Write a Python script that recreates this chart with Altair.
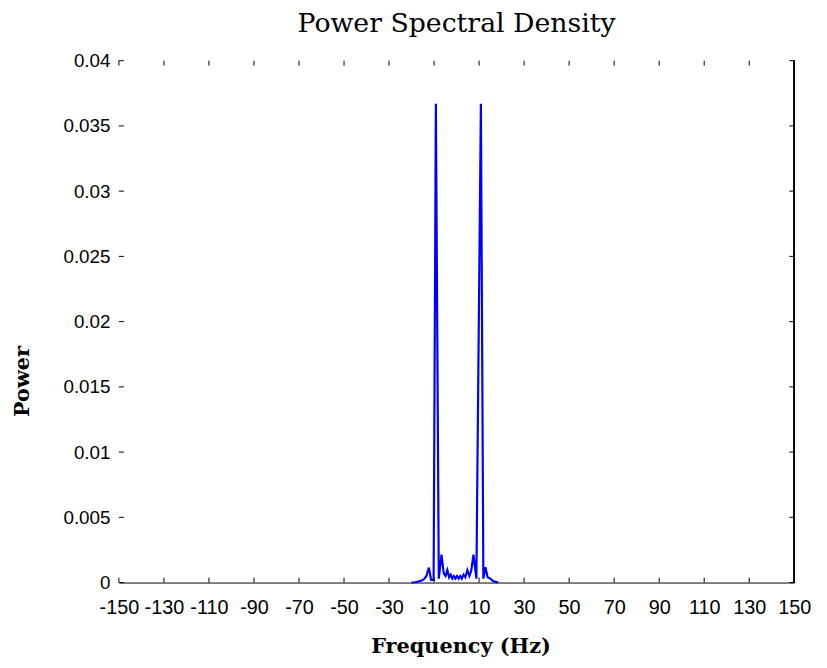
import altair as alt
import pandas as pd

# ---- data ----
freq_hz = [-20.0, -18.5, -17.0, -15.5, -14.5, -13.4, -12.3, -11.3, -10.2, -9.2,
           -7.9, -6.7, -5.7, -4.9, -4.1, -3.3, -2.6, -1.9, -1.2, -0.5,
           0.2, 0.9, 1.6, 2.3, 3.1, 3.9, 4.8, 5.7, 6.5, 7.5,
           8.8, 10.8, 11.9, 12.8, 13.8, 15.0, 16.2, 17.3, 18.5]
power = [0.0, 0.00002, 0.00008, 0.00015, 0.00025, 0.0005, 0.00114, 0.0002, 0.0002, 0.0367,
         0.0003, 0.00214, 0.0007, 0.0005, 0.00095, 0.0004, 0.0006, 0.0003, 0.0005, 0.0003,
         0.0005, 0.0003, 0.0005, 0.0003, 0.0006, 0.0004, 0.00095, 0.0005, 0.0009, 0.00214,
         0.0003, 0.0367, 0.0003, 0.00118, 0.0004, 0.0003, 0.00012, 0.00005, 0.0]

x_ticks = [-150, -130, -110, -90, -70, -50, -30, -10, 10, 30, 50, 70, 90, 110, 130, 150]
y_ticks = [0, 0.005, 0.01, 0.015, 0.02, 0.025, 0.03, 0.035, 0.04]

W, H = 682, 527
TICK = 5

df = pd.DataFrame({"f": freq_hz, "p": power})
xt = pd.DataFrame({"f": x_ticks})
yt = pd.DataFrame({"p": y_ticks})

xscale = alt.Scale(domain=[-150, 150], nice=False, zero=False)
yscale = alt.Scale(domain=[0, 0.04], nice=False)

xaxis = alt.Axis(values=x_ticks, title="Frequency (Hz)",
                 labelExpr="datum.value < 0 ? '-' + abs(datum.value) : '' + datum.value",
                 ticks=False, domain=True, domainColor="black", domainWidth=1,
                 grid=False, labelOverlap=False, labelFlush=False, labelBound=False,
                 labelFont="Liberation Sans", labelFontSize=20, labelColor="black",
                 labelPadding=15,
                 titleFont="DejaVu Serif", titleFontSize=21, titleFontWeight="bold",
                 titleColor="black", titleX=W / 2 + 4, titleY=71,
                 titleBaseline="alphabetic", titleAlign="center")
yaxis = alt.Axis(values=y_ticks, format="~g", title="Power",
                 ticks=False, domain=False, grid=False,
                 labelOverlap=False, labelFlush=False, labelBound=False,
                 labelFont="Liberation Sans", labelFontSize=19, labelColor="black",
                 labelPadding=9,
                 titleFont="DejaVu Serif", titleFontSize=21, titleFontWeight="bold",
                 titleColor="black", titleX=-97, titleY=H / 2 + 60,
                 titleAngle=-90, titleBaseline="middle", titleAlign="center")

X = alt.X("f:Q", scale=xscale, axis=xaxis)
Y = alt.Y("p:Q", scale=yscale, axis=yaxis)

line = alt.Chart(df).mark_line(color="#0000FF", strokeWidth=2.2).encode(x=X, y=Y)

bottom_ticks = alt.Chart(xt).mark_rule(color="black", strokeWidth=1).encode(
    x=X, y=alt.value(H), y2=alt.value(H - TICK))
top_ticks = alt.Chart(xt).mark_rule(color="black", strokeWidth=1).encode(
    x=X, y=alt.value(0), y2=alt.value(TICK))
left_ticks = alt.Chart(yt).mark_rule(color="black", strokeWidth=1).encode(
    y=Y, x=alt.value(0), x2=alt.value(TICK))
right_ticks = alt.Chart(yt).mark_rule(color="black", strokeWidth=1).encode(
    y=Y, x=alt.value(W), x2=alt.value(W - TICK))
right_border = alt.Chart(yt).mark_rule(color="black", strokeWidth=1).encode(
    x=alt.value(W), y=alt.value(0), y2=alt.value(H))

chart = alt.layer(line, bottom_ticks, top_ticks, left_ticks, right_ticks, right_border).properties(
    width=W, height=H,
    background="white",
    title=alt.TitleParams("Power Spectral Density", font="DejaVu Serif", fontSize=27,
                          fontWeight="normal", color="black", anchor="middle",
                          offset=14),
    autosize=alt.AutoSizeParams(type="none"),
    padding={"left": 112, "top": 50, "right": 25, "bottom": 75},
).configure_view(stroke="transparent", strokeWidth=0)

chart.save("out.html", embed_options={"renderer": "svg", "actions": False})
